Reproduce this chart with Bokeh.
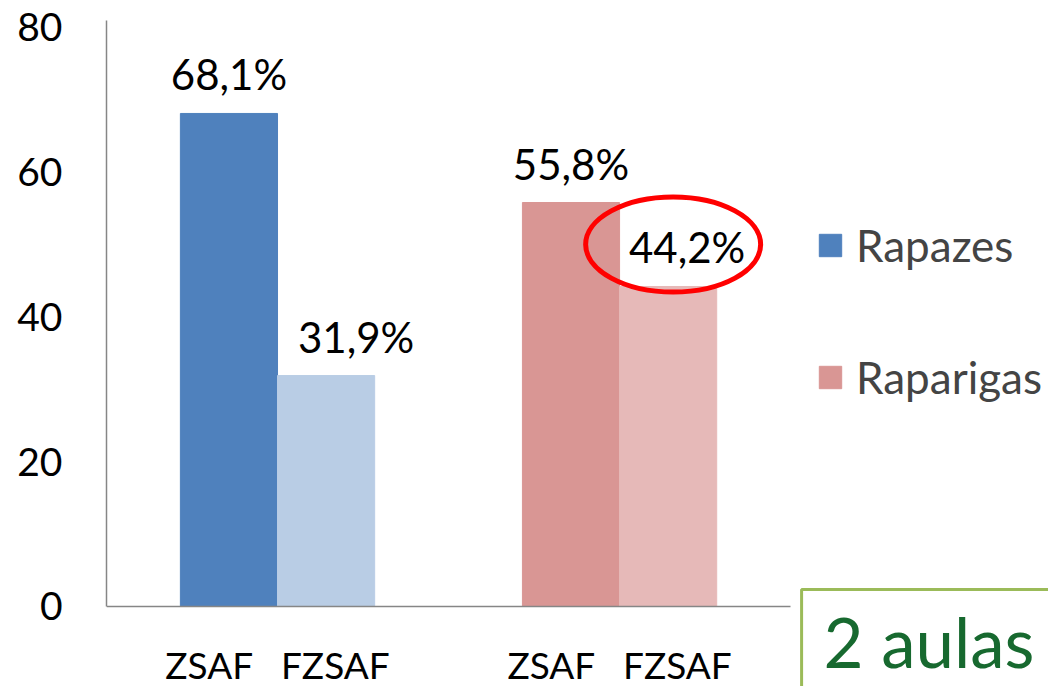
from bokeh.plotting import figure
from bokeh.models import (ColumnDataSource, Range1d, FixedTicker, Legend, LegendItem, Label)
from bokeh.core.properties import value
from bokeh.embed import file_html
from bokeh.resources import INLINE

# ---- data ----
categories = ["ZSAF", "FZSAF", "ZSAF", "FZSAF"]
groups = ["Rapazes", "Rapazes", "Raparigas", "Raparigas"]
values = [68.1, 31.9, 55.8, 44.2]
labels = ["68,1%", "31,9%", "55,8%", "44,2%"]
colors = ["#4F81BD", "#B9CDE5", "#D99694", "#E6B9B8"]
y_ticks = [0, 20, 40, 60, 80]
note_text = "2 aulas"

FONT = "Lato"
BW = 0.284
group_pos = [0.5, 1.5]
group_of_bar = [0, 0, 1, 1]
sides = [-1, 1, -1, 1]
xpos = [group_pos[g] + s * BW / 2 for g, s in zip(group_of_bar, sides)]

src = ColumnDataSource(dict(x=xpos, top=values, color=colors, label=labels,
                            xoff=[0, 30, 0, 19]))

p = figure(width=1048, height=686, output_backend="svg", toolbar_location=None,
           x_range=Range1d(0, 2.754), y_range=Range1d(-11.05, 80.94),
           min_border_left=106, min_border_top=20, min_border_right=0, min_border_bottom=0)
p.outline_line_color = None
p.grid.visible = False
p.background_fill_color = "white"
p.border_fill_color = "white"

bars = p.vbar(x="x", top="top", width=BW, bottom=0, color="color", source=src)

p.text(x="x", y="top", text="label", source=src, x_offset="xoff", y_offset=-39,
       text_align="center", text_baseline="alphabetic", text_font=value(FONT),
       text_font_size="42px", text_color="#000000")

# highlight ellipse around the 44,2% label
p.ellipse(x=xpos[3] + 5 / 342, y=values[3] + 5.8, width=175, height=95,
          width_units="screen", height_units="screen",
          fill_color=None, line_color="#FF0000", line_width=5)

# y axis
ya = p.yaxis[0]
ya.ticker = FixedTicker(ticks=y_ticks)
ya.bounds = (0, 80.94)
ya.axis_line_color = "#868686"
ya.axis_line_width = 1.5
ya.major_tick_line_color = None
ya.minor_tick_line_color = None
ya.major_label_standoff = 38
ya.major_label_text_font = FONT
ya.major_label_text_font_size = "39px"
ya.major_label_text_color = "#000000"

# x axis (one label per group, placed at the baseline)
group_labels = {}
for g, c in zip(group_of_bar, categories):
    group_labels.setdefault(group_pos[g], []).append(c)
xa = p.xaxis[0]
xa.fixed_location = 0
xa.bounds = (0, 2)
xa.ticker = FixedTicker(ticks=group_pos)
xa.major_label_overrides = {k: "\u2003".join(v) for k, v in group_labels.items()}
xa.axis_line_color = "#868686"
xa.axis_line_width = 1.5
xa.major_tick_line_color = None
xa.minor_tick_line_color = None
xa.major_label_standoff = 30
xa.major_label_text_font = FONT
xa.major_label_text_font_size = "37px"
xa.major_label_text_color = "#000000"

legend = Legend(items=[LegendItem(label=groups[0], renderers=[bars], index=0),
                       LegendItem(label=groups[2], renderers=[bars], index=2)],
                location=(710, 283), orientation="vertical",
                glyph_width=28, glyph_height=28, label_text_font=FONT,
                label_text_font_size="44px", label_standoff=12, spacing=80,
                padding=0, margin=0, border_line_color=None, background_fill_alpha=0)
p.add_layout(legend)

note = Label(x=(801 - 106) / 342, y=-12.43, text=note_text, text_font=FONT,
             text_font_size="69px", text_color="#17692F", text_baseline="alphabetic",
             border_line_color="#9BBB59", border_line_width=3,
             padding=dict(left=22, right=120, top=11, bottom=120))
p.add_layout(note)

open("out.html", "w").write(file_html(p, INLINE))
